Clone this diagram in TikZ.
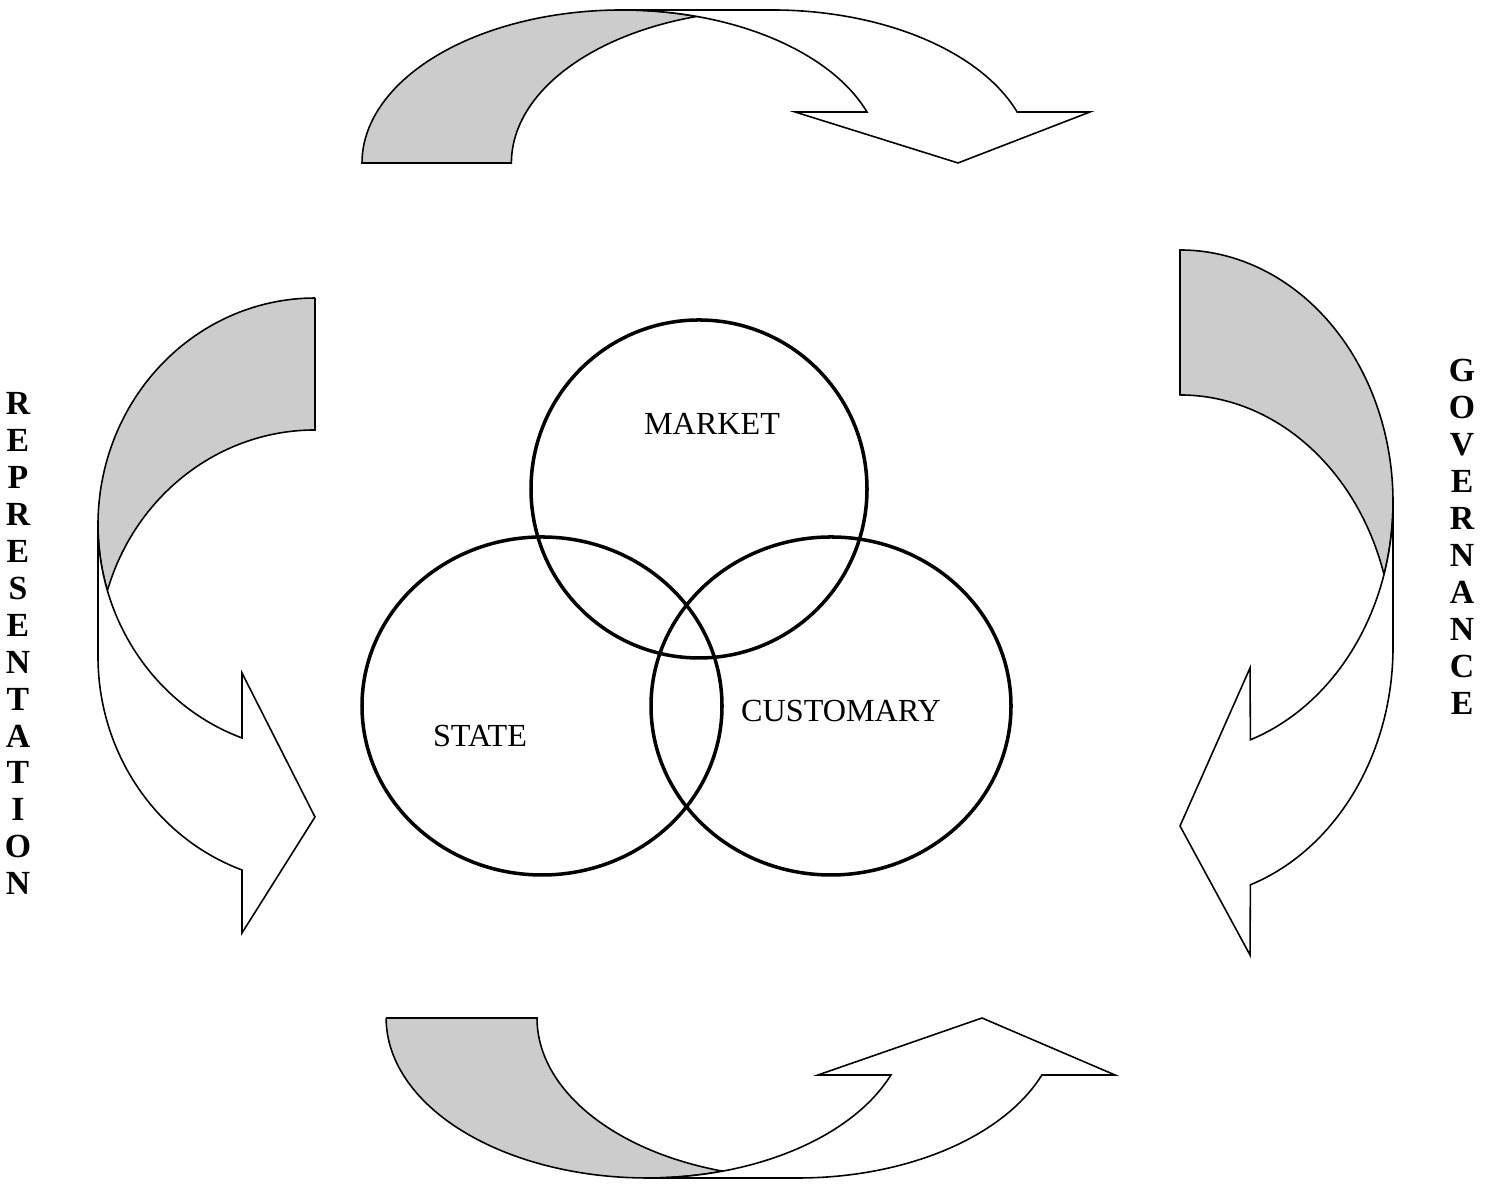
\documentclass[tikz,border=0pt]{standalone}
\usepackage{fontspec}
\setmainfont{Liberation Serif}
\tikzset{
    every node/.style={
        font=\fontsize{9.15}{11}\selectfont
    },
    backband/.style={
        draw,
        fill=black!20,
        line width=0.45pt
    },
    frontband/.style={
        draw,
        fill=white,
        line width=0.45pt
    },
    ring/.style={
        draw,
        line width=1pt
    }
}

\begin{document}
\begin{tikzpicture}[
		x=0.01cm, y=0.01cm,
		venntext/.style={anchor=base, inner sep=0pt},
		sideletter/.style={anchor=base, inner sep=0pt, font=\fontsize{9.6}{11}\selectfont\bfseries}
		]
		\useasboundingbox (0,0) rectangle (1491,1189);
		
		% top arrow
		\draw[backband] (362,1026) arc[start angle=180, end angle=73.3, x radius=260, y radius=153]
			arc[start angle=106.7, end angle=180, x radius=260, y radius=153] -- cycle;
		\draw[frontband] (622,1179) -- (772,1179) arc[start angle=90, end angle=19.47, x radius=260, y radius=153]
			-- (1090,1077) -- (958,1026) -- (795,1077) -- (867,1077)
			arc[start angle=19.47, end angle=90, x radius=260, y radius=153] -- cycle;
		
		% right arrow
		\draw[backband] (1180,939) arc[start angle=90, end angle=-16.72, x radius=213, y radius=252]
			arc[start angle=16.72, end angle=90, x radius=213, y radius=252] -- cycle;
		\draw[frontband] (1393,687) -- (1393,542) arc[start angle=0, end angle=-70.7, x radius=213, y radius=252]
			-- (1250,234) -- (1180,363) -- (1250,521) -- (1250.4,449.2)
			arc[start angle=-70.7, end angle=0, x radius=213, y radius=252] -- cycle;
		
		% bottom arrow
		\draw[backband] (386,171) -- (537,171) arc[start angle=180, end angle=253.2, x radius=261, y radius=160]
			arc[start angle=286.8, end angle=180, x radius=261, y radius=160] -- cycle;
		\draw[frontband] (647,11) -- (798,11) arc[start angle=270, end angle=339.13, x radius=261, y radius=160]
			-- (1115,114) -- (982,171) -- (818,114) -- (890.9,114)
			arc[start angle=339.13, end angle=270, x radius=261, y radius=160] -- cycle;
		
		% left arrow
		\draw[backband] (315,891) -- (315,759) arc[start angle=90, end angle=163.07, x radius=217, y radius=226.6]
			arc[start angle=196.93, end angle=90, x radius=217, y radius=226.6] -- cycle;
		\draw[frontband] (98,664.4) -- (98,532.4) arc[start angle=180, end angle=250.35, x radius=217, y radius=226.6]
			-- (242,256) -- (315,372) -- (242,516) -- (242,451)
			arc[start angle=250.35, end angle=180, x radius=217, y radius=226.6] -- cycle;
		
		% three sectors
		\draw[ring] (542,483) ellipse[x radius=180, y radius=169];
		\draw[ring] (831,483) ellipse[x radius=180, y radius=169];
		\draw[ring] (699,700) ellipse[x radius=168, y radius=169];
		
		\node (mkt) at (712,754) [venntext] {MARKET};
		\node (st) at (480,442) [venntext] {STATE};
		\node (cust) at (841,467) [venntext] {CUSTOMARY};
		
		% side words
		\foreach \ch [count=\i from 0] in {R,E,P,R,E,S,E,N,T,A,T,I,O,N}
			\node (rep\i) at (18,1189-415-36.9*\i) [sideletter] {\ch};
		\foreach \ch [count=\i from 0] in {G,O,V,E,R,N,A,N,C,E}
			\node (gov\i) at (1462,1189-382-37*\i) [sideletter] {\ch};
	\end{tikzpicture}
\end{document}
